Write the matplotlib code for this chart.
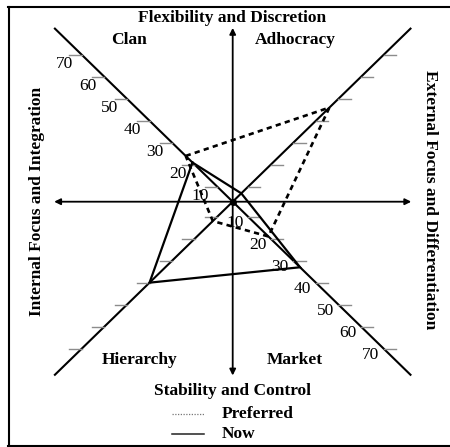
import matplotlib
matplotlib.use('Agg')
import matplotlib.pyplot as plt
from matplotlib.lines import Line2D

# ---------------- data ----------------
quadrants = ['Clan', 'Adhocracy', 'Market', 'Hierarchy']
now_values = [21, 7, 33, 40]
preferred_values = [24, 46, 19, 12]
tick_values = [10, 20, 30, 40, 50, 60, 70]
tick_labels = ['10', '20', '30', '40', '50', '60', '70']
axis_titles = ['Flexibility and Discretion', 'Stability and Control',
               'Internal Focus and Integration', 'External Focus and Differentiation']
legend_labels = ['Preferred', 'Now']

# ---------------- layout ----------------
W, H = 450, 447
KX, KY = 2.26, 2.2          # pixels per unit
CX, CY = 232.7, 201.7       # centre in pixels
OFFSET = 3.2                # scale offset of the hand-drawn axes
AX_LEN = 79
TICK_LEN = 5.5
directions = {'Clan': (-1, 1), 'Adhocracy': (1, 1), 'Market': (1, -1), 'Hierarchy': (-1, -1)}

BOLD = dict(family='Liberation Serif', fontweight='bold', fontsize=12.5)
REG = dict(family='Liberation Serif', fontsize=12.5)

fig = plt.figure(figsize=(W / 100, H / 100), dpi=100)
ax = fig.add_axes([0, 0, 1, 1])
ax.set_xlim(-CX / KX, (W - CX) / KX)
ax.set_ylim(-(H - CY) / KY, CY / KY)
ax.axis('off')


def radius(v):
    return v - OFFSET


def point(q, v):
    sx, sy = directions[q]
    r = radius(v)
    return sx * r, sy * r


# diagonals
ax.plot([-AX_LEN, AX_LEN], [AX_LEN, -AX_LEN], color='black', lw=1.5, solid_capstyle='butt')
ax.plot([-AX_LEN, AX_LEN], [-AX_LEN, AX_LEN], color='black', lw=1.5, solid_capstyle='butt')

# arrow axes
arrow = dict(arrowstyle='<|-|>', color='black', lw=1.3, mutation_scale=9, shrinkA=0, shrinkB=0)
ax.annotate('', xy=(AX_LEN, 0), xytext=(-AX_LEN, 0), arrowprops=arrow)
ax.annotate('', xy=(0, AX_LEN), xytext=(0, -AX_LEN), arrowprops=arrow)
ax.plot([0], [0], 'o', color='black', ms=4)

# ticks
for q in quadrants:
    sx, sy = directions[q]
    for v, lab in zip(tick_values, tick_labels):
        x0, y0 = point(q, v)
        ax.plot([x0, x0 + sx * TICK_LEN], [y0, y0], color='#8c8c8c', lw=1.0)
        if q == 'Clan':
            ax.text(x0 - 7.5, y0 - 4.0, lab, ha='center', va='center', **REG)
        elif q == 'Market':
            ax.text(x0 - 5.8, y0 - 2.7, lab, ha='center', va='center', **REG)

# polygons
def poly(values):
    pts = [point(q, v) for q, v in zip(quadrants, values)]
    pts.append(pts[0])
    return [p[0] for p in pts], [p[1] for p in pts]

px, py = poly(preferred_values)
ax.plot(px, py, color='black', lw=1.9, linestyle=(0, (2.0, 1.6)), dash_capstyle='butt')
nx, ny = poly(now_values)
ax.plot(nx, ny, color='black', lw=1.6, solid_joinstyle='miter')


def ftext(x, y, s, **kw):
    fig.text(x / W, 1 - y / H, s, **kw)


ftext(232, 18, axis_titles[0], ha='center', va='center', **BOLD)
ftext(233, 391, axis_titles[1], ha='center', va='center', **BOLD)
ftext(37, 201, axis_titles[2], ha='center', va='center', rotation=90, **BOLD)
ftext(430, 200, axis_titles[3], ha='center', va='center', rotation=-90, **BOLD)

quad_pos = {'Clan': (129, 40), 'Adhocracy': (295, 40), 'Market': (295, 360), 'Hierarchy': (140, 360)}
for q in quadrants:
    ftext(*quad_pos[q], q, ha='center', va='center', **BOLD)

# legend
fig.add_artist(Line2D([172 / W, 204 / W], [1 - 414 / H] * 2, transform=fig.transFigure,
                      color='#777777', lw=0.9, linestyle=(0, (1, 1.2))))
fig.add_artist(Line2D([172 / W, 204 / W], [1 - 434 / H] * 2, transform=fig.transFigure,
                      color='#222222', lw=1.1))
ftext(222, 414, legend_labels[0], ha='left', va='center', **BOLD)
ftext(222, 434, legend_labels[1], ha='left', va='center', **BOLD)

# frame
fr = dict(transform=fig.transFigure, color='black', lw=1.5)
fig.add_artist(Line2D([8.5 / W, 8.5 / W], [1 - 7 / H, 1 - 445.5 / H], **fr))
fig.add_artist(Line2D([8 / W, 1], [1 - 7 / H, 1 - 7 / H], **fr))
fig.add_artist(Line2D([8 / W, 1], [1 - 445.5 / H, 1 - 445.5 / H], **fr))

fig.savefig('out.png', dpi=100)
